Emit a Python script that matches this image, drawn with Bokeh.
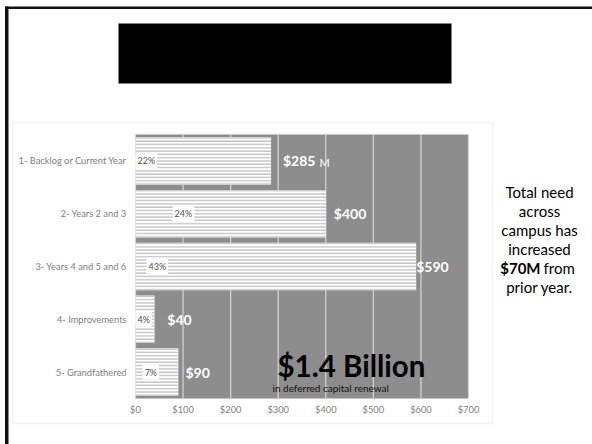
from bokeh.plotting import figure
from bokeh.models import (Range1d, ColumnDataSource, Label, BoxAnnotation, FixedTicker,
                          LinearAxis)
from bokeh.core.properties import value
from bokeh.embed import file_html
from bokeh.resources import INLINE

# ---- data ----
categories = ["1- Backlog or Current Year", "2- Years 2 and 3", "3- Years 4 and 5 and 6",
              "4- Improvements", "5- Grandfathered"]
values = [285, 400, 590, 40, 90]
pct_labels = ["22%", "24%", "43%", "4%", "7%"]
value_labels = ["$285", "$400", "$590", "$40", "$90"]
x_ticks = [0, 100, 200, 300, 400, 500, 600, 700]
x_tick_labels = ["$0", "$100", "$200", "$300", "$400", "$500", "$600", "$700"]
unit_label = "M"
total_label = "$1.4 Billion"
total_sub = "in deferred capital renewal"
note_lines = ["Total need", "across", "campus has", "increased", "$70M from", "prior year."]
note_bold = "$70M"

# ---- layout (positions only) ----
pct_x = [0, 78, 23, 0, 15]          # left edge of % label boxes, data units
val_dx = [25, 17, 0, 27, 15]        # gap between bar end and value label, data units
W, H = 592, 444
PL, PR, PT, PB = 135, 468, 134, 398  # plot area on the slide (px)

FONT = "Lato"
n = len(categories)
pos = list(range(n))                 # category slots, 0 at top

kx = (PR - PL) / 700.0
ky = (PB - PT) / n
x_range = Range1d(-PL / kx, 700 + (W - PR) / kx)
y_range = Range1d(n - 0.5 + (H - PB) / ky, -0.5 - PT / ky)

p = figure(width=W, height=H, x_range=x_range, y_range=y_range,
           x_axis_location=None, y_axis_location=None,
           output_backend="svg", toolbar_location=None,
           min_border=0)
p.background_fill_color = "white"
p.border_fill_color = "white"
p.outline_line_color = None
p.xgrid.visible = False
p.ygrid.visible = False

# plot area background
p.add_layout(BoxAnnotation(left=0, right=700, top=-0.5, bottom=n - 0.5,
                           fill_color="#8d8d8d", fill_alpha=1, line_color=None,
                           level="underlay"))
# vertical grid lines
p.segment(x0=x_ticks, x1=x_ticks, y0=[-0.5] * len(x_ticks), y1=[n - 0.5] * len(x_ticks),
          line_color="#d6d6d6", line_width=1.2)

xaxis = LinearAxis(fixed_location=n - 0.5, ticker=FixedTicker(ticks=x_ticks),
                   major_label_overrides={t: l for t, l in zip(x_ticks, x_tick_labels)})
yaxis = LinearAxis(fixed_location=0, ticker=FixedTicker(ticks=pos),
                   major_label_overrides={i: c for i, c in zip(pos, categories)})
for ax in (xaxis, yaxis):
    ax.axis_line_color = None
    ax.major_tick_line_color = None
    ax.minor_tick_line_color = None
    ax.major_tick_out = 0
    ax.major_tick_in = 0
    ax.major_label_text_color = "#808080"
    ax.major_label_text_font = FONT
    ax.major_label_text_font_size = "9.3px"
xaxis.major_label_standoff = 5
yaxis.major_label_standoff = 9
p.add_layout(xaxis, "below")
p.add_layout(yaxis, "left")

src = ColumnDataSource(dict(
    pos=pos, val=values, pct=pct_labels, vlab=value_labels,
    px=pct_x, vx=[v + d for v, d in zip(values, val_dx)],
))

p.hbar(y="pos", left=0, right="val", height=0.9, source=src,
       fill_color="white", line_color=None,
       hatch_pattern="horizontal_line", hatch_color="#c4c4c4",
       hatch_scale=3.3, hatch_weight=1.5)

p.text(x="px", y="pos", text="pct", source=src,
       text_baseline="middle", text_align="left",
       text_font=value(FONT), text_font_size="9px", text_color="#505050",
       background_fill_color="white", padding=2)
p.text(x="vx", y="pos", text="vlab", source=src,
       text_baseline="middle", text_align="left",
       text_font=value(FONT), text_font_size="14px", text_font_style="bold",
       text_color="white")

# ---- slide decorations (canvas units) ----
def cbox(l, r, t, b, **kw):
    p.add_layout(BoxAnnotation(left=l, right=r, top=t, bottom=b,
                               left_units="canvas", right_units="canvas",
                               top_units="canvas", bottom_units="canvas",
                               level="overlay", **kw))

cbox(4.5, 8, 6, 444, fill_color="#111111", fill_alpha=1, line_color=None)
cbox(4.5, 592, 6, 8.5, fill_color="#111111", fill_alpha=1, line_color=None)
cbox(12, 492, 122, 423, fill_alpha=0, line_color="#d9d9d9", line_width=1.5)
cbox(118, 451, 23, 83, fill_color="black", fill_alpha=1, line_color="#888888", line_width=1)

def clabel(x, y, text, size, bold=False, color="black", align="left"):
    p.add_layout(Label(x=x, y=y, x_units="canvas", y_units="canvas", text=text,
                       text_font=FONT, text_font_size=size,
                       text_font_style="bold" if bold else "normal",
                       text_color=color, text_align=align, text_baseline="middle"))

clabel(319, 162, unit_label, "11px", color="white")
clabel(277, 365, total_label, "29.5px", bold=True)
clabel(272, 387, total_sub, "10px", color="#111111")

mids = [191, 210, 229, 248, 267, 286]
for line, ym in zip(note_lines, mids):
    if line.startswith(note_bold):
        clabel(540, ym, note_bold, "15px", bold=True, align="right")
        clabel(543, ym, line[len(note_bold):].strip(), "15px")
    else:
        clabel(539, ym, line, "15px", align="center")

open("out.html", "w").write(file_html(p, INLINE))
